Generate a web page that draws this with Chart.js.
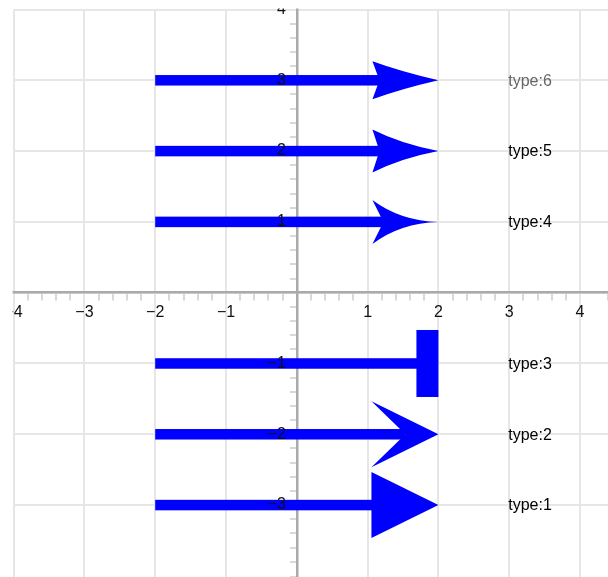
<!DOCTYPE html>
<html>
<head>
<meta charset="utf-8">
<script src="https://cdn.jsdelivr.net/npm/chart.js@4.4.1/dist/chart.umd.min.js"></script>
<style>
    html, body { margin: 0; padding: 0; background: #fff; }
    #wrap { position: relative; width: 608px; height: 577px; }
</style>
</head>
<body>
<div id="wrap"><canvas id="arrows-chart"></canvas></div>
<script>
// Chart data
const arrowY = [3, 2, 1, -1, -2, -3];
const arrowTypes = [6, 5, 4, 3, 2, 1];
const startX = [-2, -2, -2, -2, -2, -2];
const endX = [2, 2, 2, 2, 2, 2];
const typeLabels = ['type:6', 'type:5', 'type:4', 'type:3', 'type:2', 'type:1'];
const labelX = 3;
const axisTicks = [-4, -3, -2, -1, 1, 2, 3, 4];

const FONT = '"Liberation Sans", Arial, sans-serif';
const BLUE = '#0000ff';

function isInt(v) {
    return Math.abs(v - Math.round(v)) < 1e-9;
}

// Tick label text: integers only, no zero, real minus sign
function tickLabel(value) {
    if (!isInt(value) || !axisTicks.includes(Math.round(value))) return '';
    const v = Math.round(value);
    return v < 0 ? '\u2212' + Math.abs(v) : String(v);
}

function gridColor(c) {
    return c.tick && isInt(c.tick.value) ? '#e6e6e6' : 'rgba(0,0,0,0)';
}

function tickColor(c) {
    return c.tick && isInt(c.tick.value) ? '#e6e6e6' : '#cccccc';
}

// Linear scale whose labels keep clear of the tick marks when the
// vertical axis crosses the middle of the plot
class CrossLinearScale extends Chart.LinearScale {
    _computeLabelItems(chartArea) {
        const items = super._computeLabelItems(chartArea);
        if (!this.isHorizontal()) {
            const shift = this.options.grid.tickLength + this.options.ticks.padding;
            items.forEach(item => { item.options.translation[0] -= shift; });
        }
        return items;
    }
}
CrossLinearScale.id = 'crossLinear';
CrossLinearScale.defaults = Chart.LinearScale.defaults;
Chart.register(CrossLinearScale);

// Arrowhead shapes, tip at (x1, y); returns where the shaft stops
function drawHead(ctx, x1, y, type) {
    ctx.beginPath();
    if (type === 1) {
        ctx.moveTo(x1, y);
        ctx.lineTo(x1 - 67, y - 33);
        ctx.lineTo(x1 - 67, y + 33);
        ctx.closePath();
        ctx.fill();
        return x1 - 66;
    }
    if (type === 2) {
        ctx.moveTo(x1, y);
        ctx.lineTo(x1 - 67, y - 33);
        ctx.lineTo(x1 - 33, y);
        ctx.lineTo(x1 - 67, y + 33);
        ctx.closePath();
        ctx.fill();
        return x1 - 33;
    }
    if (type === 3) {
        ctx.fillRect(x1 - 22, y - 33.5, 22, 67);
        return x1 - 21;
    }
    // curved heads
    const curved = {
        6: { h: 19, kx: -37, ky: -8.5, nx: -59 },
        5: { h: 21.5, kx: -37, ky: -7, nx: -59 },
        4: { h: 22, kx: -38, ky: -1, nx: -55 }
    }[type];
    ctx.moveTo(x1, y);
    ctx.quadraticCurveTo(x1 + curved.kx, y + curved.ky, x1 - 66, y - curved.h);
    ctx.lineTo(x1 + curved.nx, y);
    ctx.lineTo(x1 - 66, y + curved.h);
    ctx.quadraticCurveTo(x1 + curved.kx, y - curved.ky, x1, y);
    ctx.closePath();
    ctx.fill();
    return x1 + curved.nx + 1;
}

// Draw arrows and their labels from dataset points
const arrowPlugin = {
    id: 'arrowPlugin',
    afterDatasetsDraw(chart) {
        const ctx = chart.ctx;
        const xScale = chart.scales.x;
        chart.data.datasets.forEach((ds, i) => {
            const pts = chart.getDatasetMeta(i).data;
            const x0 = pts[0].x;
            const x1 = pts[1].x;
            const y = pts[1].y;
            ctx.save();
            ctx.fillStyle = BLUE;
            const shaftEnd = drawHead(ctx, x1, y, ds.headType);
            ctx.fillRect(x0, y - 5.25, shaftEnd - x0, 10.5);

            ctx.fillStyle = ds.headType === 6 ? '#666666' : '#000000';
            ctx.font = '16px ' + FONT;
            ctx.textAlign = 'left';
            ctx.textBaseline = 'middle';
            ctx.fillText(ds.label, xScale.getPixelForValue(labelX) - 1, y + 1);
            ctx.restore();
        });
    }
};

// Everything is cut at the plot area
const clipPlugin = {
    id: 'clipPlugin',
    beforeDraw(chart) {
        const a = chart.chartArea;
        chart.ctx.save();
        chart.ctx.beginPath();
        chart.ctx.rect(a.left - 1, a.top - 1, a.right - a.left + 1, a.bottom - a.top + 1);
        chart.ctx.clip();
    },
    afterDraw(chart) {
        chart.ctx.restore();
    }
};

function zeroFit(scale) {
    if (scale.isHorizontal()) scale.height = 0; else scale.width = 0;
    scale.paddingLeft = 0;
    scale.paddingRight = 0;
    scale.paddingTop = 0;
    scale.paddingBottom = 0;
}

const datasets = arrowY.map((y, i) => ({
    label: typeLabels[i],
    headType: arrowTypes[i],
    data: [{ x: startX[i], y: y }, { x: endX[i], y: y }],
    showLine: false,
    pointRadius: 0,
    pointHoverRadius: 0
}));

const ctx = document.getElementById('arrows-chart').getContext('2d');
const chart = new Chart(ctx, {
    type: 'scatter',
    data: { datasets },
    options: {
        responsive: true,
        maintainAspectRatio: false,
        animation: false,
        events: [],
        layout: { padding: { left: 13.6, top: 9.5, right: 0, bottom: 0 } },
        plugins: {
            legend: { display: false },
            tooltip: { enabled: false }
        },
        scales: {
            x: {
                type: 'linear',
                min: -4,
                max: 4.395,
                position: { y: 0 },
                afterFit: zeroFit,
                ticks: {
                    stepSize: 0.2,
                    autoSkip: false,
                    maxRotation: 0,
                    padding: 3,
                    z: 1,
                    color: '#111',
                    font: { family: FONT, size: 16 },
                    callback: tickLabel
                },
                grid: {
                    color: gridColor,
                    lineWidth: 2,
                    tickLength: 7,
                    tickColor: tickColor,
                    tickWidth: 1.5
                },
                border: { color: '#aaaaaa', width: 2.5 }
            },
            y: {
                type: 'crossLinear',
                min: -4.016,
                max: 4,
                position: { x: 0 },
                afterFit: zeroFit,
                ticks: {
                    stepSize: 0.2,
                    autoSkip: false,
                    padding: 5,
                    z: 1,
                    color: '#111',
                    font: { family: FONT, size: 16 },
                    callback: tickLabel
                },
                grid: {
                    color: gridColor,
                    lineWidth: 2,
                    tickLength: 6,
                    tickColor: tickColor,
                    tickWidth: 1.5
                },
                border: { color: '#aaaaaa', width: 2.5 }
            }
        }
    },
    plugins: [clipPlugin, arrowPlugin]
});
</script>
</body>
</html>
